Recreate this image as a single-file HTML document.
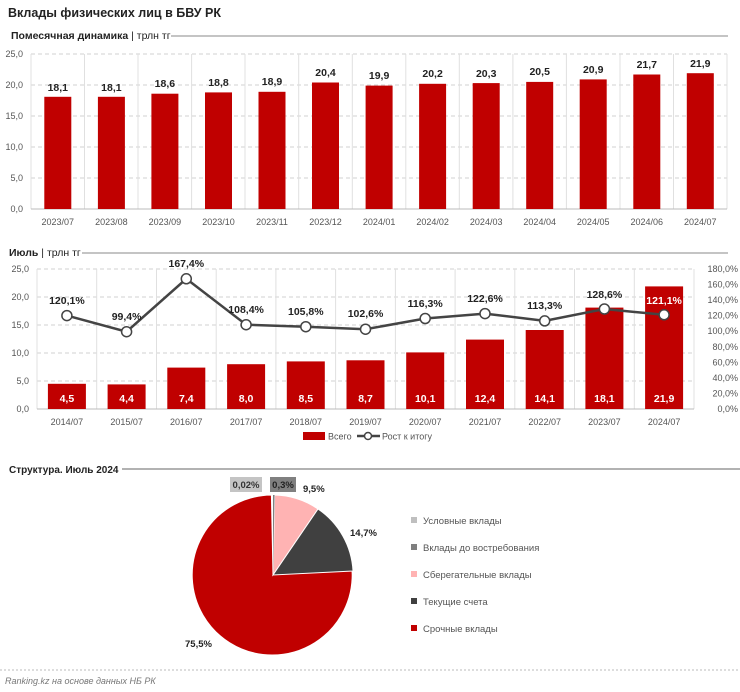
<!DOCTYPE html>
<html><head><meta charset="utf-8"><style>
body{margin:0;background:#fff;}
svg{display:block;font-family:"Liberation Sans","DejaVu Sans",sans-serif;}
</style></head><body>
<svg width="740" height="692" viewBox="0 0 740 692" xmlns="http://www.w3.org/2000/svg">
<rect width="740" height="692" fill="#fff"/>
<text x="8" y="17" font-size="12.5" font-weight="bold" fill="#222">Вклады физических лиц в БВУ РК</text>
<text x="11" y="39" font-size="10.5" font-weight="bold" fill="#222">Помесячная динамика <tspan font-weight="normal">| трлн тг</tspan></text>
<line x1="171" y1="36" x2="728" y2="36" stroke="#888" stroke-width="1"/>
<g stroke="#d0d0d0" stroke-dasharray="4,3">
<line x1="31" y1="54" x2="727" y2="54"/><line x1="31" y1="85" x2="727" y2="85"/><line x1="31" y1="116" x2="727" y2="116"/><line x1="31" y1="147" x2="727" y2="147"/><line x1="31" y1="178" x2="727" y2="178"/>
</g>
<g stroke="#e0e0e0"><line x1="31" y1="54" x2="31" y2="209"/><line x1="84.5" y1="54" x2="84.5" y2="209"/><line x1="138" y1="54" x2="138" y2="209"/><line x1="191.6" y1="54" x2="191.6" y2="209"/><line x1="245" y1="54" x2="245" y2="209"/><line x1="298.7" y1="54" x2="298.7" y2="209"/><line x1="352.3" y1="54" x2="352.3" y2="209"/><line x1="405.8" y1="54" x2="405.8" y2="209"/><line x1="459.3" y1="54" x2="459.3" y2="209"/><line x1="512.9" y1="54" x2="512.9" y2="209"/><line x1="566.4" y1="54" x2="566.4" y2="209"/><line x1="620" y1="54" x2="620" y2="209"/><line x1="673.5" y1="54" x2="673.5" y2="209"/><line x1="727" y1="54" x2="727" y2="209"/></g>
<line x1="31" y1="209" x2="727" y2="209" stroke="#bbb"/>
<g font-size="9" fill="#555" text-anchor="end">
<text x="23" y="57">25,0</text><text x="23" y="88">20,0</text><text x="23" y="119">15,0</text><text x="23" y="150">10,0</text><text x="23" y="181">5,0</text><text x="23" y="212">0,0</text>
</g>
<g fill="#c00000">
<rect x="44.3" y="96.8" width="27" height="112.2"/>
<rect x="97.9" y="96.8" width="27" height="112.2"/>
<rect x="151.4" y="93.7" width="27" height="115.3"/>
<rect x="205" y="92.4" width="27" height="116.6"/>
<rect x="258.5" y="91.8" width="27" height="117.2"/>
<rect x="312" y="82.5" width="27" height="126.5"/>
<rect x="365.6" y="85.6" width="27" height="123.4"/>
<rect x="419.1" y="83.8" width="27" height="125.2"/>
<rect x="472.7" y="83.1" width="27" height="125.9"/>
<rect x="526.2" y="81.9" width="27" height="127.1"/>
<rect x="579.7" y="79.4" width="27" height="129.6"/>
<rect x="633.3" y="74.5" width="27" height="134.5"/>
<rect x="686.8" y="73.2" width="27" height="135.8"/>
</g>
<g font-size="10.5" font-weight="bold" fill="#222" text-anchor="middle">
<text x="57.8" y="91">18,1</text><text x="111.4" y="91">18,1</text><text x="164.9" y="87">18,6</text><text x="218.5" y="86">18,8</text><text x="272" y="85">18,9</text><text x="325.5" y="76">20,4</text><text x="379.1" y="79">19,9</text><text x="432.6" y="77">20,2</text><text x="486.2" y="77">20,3</text><text x="539.7" y="75">20,5</text><text x="593.2" y="73">20,9</text><text x="646.8" y="68">21,7</text><text x="700.3" y="67">21,9</text>
</g>
<g font-size="9" fill="#555" text-anchor="middle">
<text x="57.8" y="225">2023/07</text><text x="111.4" y="225">2023/08</text><text x="164.9" y="225">2023/09</text><text x="218.5" y="225">2023/10</text><text x="272" y="225">2023/11</text><text x="325.5" y="225">2023/12</text><text x="379.1" y="225">2024/01</text><text x="432.6" y="225">2024/02</text><text x="486.2" y="225">2024/03</text><text x="539.7" y="225">2024/04</text><text x="593.2" y="225">2024/05</text><text x="646.8" y="225">2024/06</text><text x="700.3" y="225">2024/07</text>
</g>

<text x="9" y="256" font-size="10.5" font-weight="bold" fill="#222">Июль <tspan font-weight="normal">| трлн тг</tspan></text>
<line x1="82" y1="253" x2="728" y2="253" stroke="#888"/>
<g stroke="#d0d0d0" stroke-dasharray="4,3">
<line x1="37" y1="269" x2="694" y2="269"/><line x1="37" y1="297" x2="694" y2="297"/><line x1="37" y1="325" x2="694" y2="325"/><line x1="37" y1="353" x2="694" y2="353"/><line x1="37" y1="381" x2="694" y2="381"/>
</g>
<g stroke="#e0e0e0"><line x1="37" y1="269" x2="37" y2="409"/><line x1="96.7" y1="269" x2="96.7" y2="409"/><line x1="156.5" y1="269" x2="156.5" y2="409"/><line x1="216.2" y1="269" x2="216.2" y2="409"/><line x1="275.9" y1="269" x2="275.9" y2="409"/><line x1="335.6" y1="269" x2="335.6" y2="409"/><line x1="395.4" y1="269" x2="395.4" y2="409"/><line x1="455.1" y1="269" x2="455.1" y2="409"/><line x1="514.8" y1="269" x2="514.8" y2="409"/><line x1="574.5" y1="269" x2="574.5" y2="409"/><line x1="634.3" y1="269" x2="634.3" y2="409"/><line x1="694" y1="269" x2="694" y2="409"/></g>
<line x1="37" y1="409" x2="694" y2="409" stroke="#bbb"/>
<g font-size="9" fill="#555" text-anchor="end">
<text x="29" y="272">25,0</text><text x="29" y="300">20,0</text><text x="29" y="328">15,0</text><text x="29" y="356">10,0</text><text x="29" y="384">5,0</text><text x="29" y="412">0,0</text>
</g>
<g font-size="9" fill="#555" text-anchor="end">
<text x="738" y="272">180,0%</text><text x="738" y="287.6">160,0%</text><text x="738" y="303.1">140,0%</text><text x="738" y="318.7">120,0%</text><text x="738" y="334.2">100,0%</text><text x="738" y="349.8">80,0%</text><text x="738" y="365.3">60,0%</text><text x="738" y="380.9">40,0%</text><text x="738" y="396.4">20,0%</text><text x="738" y="412">0,0%</text>
</g>
<g fill="#c00000">
<rect x="47.9" y="383.8" width="38" height="25.2"/>
<rect x="107.6" y="384.4" width="38" height="24.6"/>
<rect x="167.3" y="367.6" width="38" height="41.4"/>
<rect x="227.1" y="364.2" width="38" height="44.8"/>
<rect x="286.8" y="361.4" width="38" height="47.6"/>
<rect x="346.5" y="360.3" width="38" height="48.7"/>
<rect x="406.2" y="352.4" width="38" height="56.6"/>
<rect x="466" y="339.6" width="38" height="69.4"/>
<rect x="525.7" y="330" width="38" height="79"/>
<rect x="585.4" y="307.6" width="38" height="101.4"/>
<rect x="645.1" y="286.4" width="38" height="122.6"/>
</g>
<g font-size="10.5" font-weight="bold" fill="#fff" text-anchor="middle">
<text x="66.9" y="402">4,5</text><text x="126.6" y="402">4,4</text><text x="186.3" y="402">7,4</text><text x="246.1" y="402">8,0</text><text x="305.8" y="402">8,5</text><text x="365.5" y="402">8,7</text><text x="425.2" y="402">10,1</text><text x="485" y="402">12,4</text><text x="544.7" y="402">14,1</text><text x="604.4" y="402">18,1</text><text x="664.1" y="402">21,9</text>
</g>
<polyline fill="none" stroke="#444" stroke-width="2.5" points="66.9,315.6 126.6,331.7 186.3,278.8 246.1,324.7 305.8,326.7 365.5,329.2 425.2,318.5 485,313.6 544.7,320.9 604.4,309 664.1,314.8"/>
<g fill="#fff" stroke="#444" stroke-width="1.5">
<circle cx="66.9" cy="315.6" r="5"/><circle cx="126.6" cy="331.7" r="5"/><circle cx="186.3" cy="278.8" r="5"/><circle cx="246.1" cy="324.7" r="5"/><circle cx="305.8" cy="326.7" r="5"/><circle cx="365.5" cy="329.2" r="5"/><circle cx="425.2" cy="318.5" r="5"/><circle cx="485" cy="313.6" r="5"/><circle cx="544.7" cy="320.9" r="5"/><circle cx="604.4" cy="309" r="5"/><circle cx="664.1" cy="314.8" r="5"/>
</g>
<g font-size="10.5" font-weight="bold" fill="#222" text-anchor="middle">
<text x="66.9" y="304">120,1%</text><text x="126.6" y="320">99,4%</text><text x="186.3" y="267">167,4%</text><text x="246.1" y="313">108,4%</text><text x="305.8" y="315">105,8%</text><text x="365.5" y="317">102,6%</text><text x="425.2" y="307">116,3%</text><text x="485" y="302">122,6%</text><text x="544.7" y="309">113,3%</text><text x="604.4" y="298">128,6%</text><text x="664.1" y="304" fill="#fff">121,1%</text>
</g>
<g font-size="9" fill="#555" text-anchor="middle">
<text x="66.9" y="425">2014/07</text><text x="126.6" y="425">2015/07</text><text x="186.3" y="425">2016/07</text><text x="246.1" y="425">2017/07</text><text x="305.8" y="425">2018/07</text><text x="365.5" y="425">2019/07</text><text x="425.2" y="425">2020/07</text><text x="485" y="425">2021/07</text><text x="544.7" y="425">2022/07</text><text x="604.4" y="425">2023/07</text><text x="664.1" y="425">2024/07</text>
</g>
<rect x="303" y="432" width="22" height="8" fill="#c00000"/>
<text x="328" y="439.5" font-size="9" fill="#555">Всего</text>
<line x1="357" y1="436" x2="380" y2="436" stroke="#444" stroke-width="2.5"/>
<circle cx="368" cy="436" r="3.5" fill="#fff" stroke="#444" stroke-width="1.5"/>
<text x="382" y="439.5" font-size="9" fill="#555">Рост к итогу</text>

<text x="9" y="473" font-size="10" font-weight="bold" fill="#222">Структура. Июль 2024</text>
<line x1="122" y1="469" x2="740" y2="469" stroke="#666"/>
<g stroke="#fff" stroke-width="1">
<path d="M273,575 L273,495 A80,80 0 1,1 271.4,495 Z" fill="#c00000"/>
<path d="M273,575 L274.6,495 A80,80 0 0,1 318,509 Z" fill="#ffb3b3"/>
<path d="M273,575 L318,509 A80,80 0 0,1 353,571 Z" fill="#404040"/>
</g>
<path d="M273,575 L273,495 A80,80 0 0,1 274.6,495 Z" fill="#808080"/>
<rect x="230" y="477" width="32" height="15" fill="#c4c4c4"/>
<text x="246" y="488" font-size="9.5" font-weight="bold" fill="#333" text-anchor="middle">0,02%</text>
<rect x="270" y="477" width="26" height="15" fill="#808080"/>
<text x="283" y="488" font-size="9.5" font-weight="bold" fill="#222" text-anchor="middle">0,3%</text>
<text x="303" y="492" font-size="9.5" font-weight="bold" fill="#222">9,5%</text>
<text x="350" y="536" font-size="9.5" font-weight="bold" fill="#222">14,7%</text>
<text x="185" y="647" font-size="9.5" font-weight="bold" fill="#222">75,5%</text>
<g font-size="9.5" fill="#555">
<rect x="411" y="517" width="6" height="6" fill="#bfbfbf"/><text x="423" y="524">Условные вклады</text>
<rect x="411" y="544" width="6" height="6" fill="#7f7f7f"/><text x="423" y="551">Вклады до востребования</text>
<rect x="411" y="571" width="6" height="6" fill="#ffb3b3"/><text x="423" y="578">Сберегательные вклады</text>
<rect x="411" y="598" width="6" height="6" fill="#404040"/><text x="423" y="605">Текущие счета</text>
<rect x="411" y="625" width="6" height="6" fill="#c00000"/><text x="423" y="632">Срочные вклады</text>
</g>
<line x1="0" y1="670" x2="740" y2="670" stroke="#bbb" stroke-dasharray="2,2"/>
<text x="5" y="684" font-size="9" font-style="italic" fill="#777">Ranking.kz на основе данных НБ РК</text>
</svg>
</body></html>
